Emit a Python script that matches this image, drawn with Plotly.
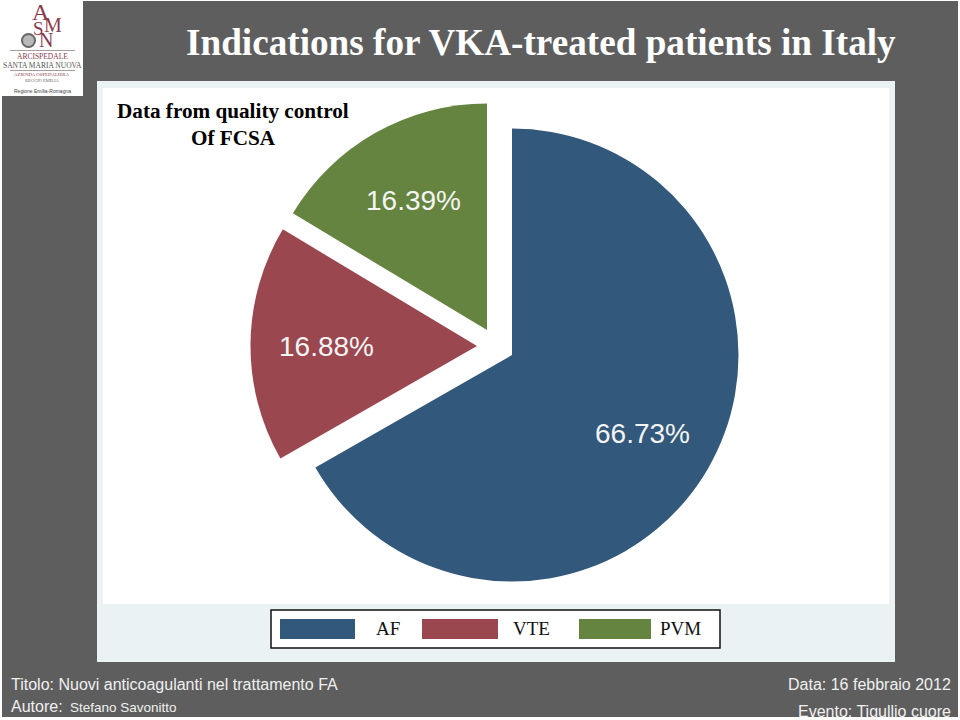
import plotly.graph_objects as go

categories = ["AF", "VTE", "PVM"]
shares = [66.73, 16.88, 16.39]
colors = ["#32587C", "#9A474F", "#64843F"]

W, H = 960, 720
def px(x): return x / W
def py(y): return 1 - y / H

fig = go.Figure()
# every slice is its own offset pie, because the original explodes them by unequal vectors
centres = [(512, 355), (477, 346), (487, 330)]
radius = 226.5
for i, (cx, cy) in enumerate(centres):
    slice_colors = [c if j == i else "rgba(0,0,0,0)" for j, c in enumerate(colors)]
    fig.add_trace(go.Pie(
        labels=categories, values=shares, sort=False, direction="clockwise", rotation=0,
        marker=dict(colors=slice_colors, line=dict(width=0)),
        textinfo="none", showlegend=False, hoverinfo="skip",
        domain=dict(x=[px(cx - radius), px(cx + radius)], y=[py(cy + radius), py(cy - radius)]),
    ))

shapes = []
def rect(x0, y0, x1, y1, fill, line=None, lw=0, layer="below"):
    shapes.append(dict(type="rect", xref="paper", yref="paper", x0=px(x0), x1=px(x1),
                       y0=py(y1), y1=py(y0), fillcolor=fill, layer=layer,
                       line=dict(color=line or fill, width=lw)))
rect(0, 0, 960, 720, "#FFFFFF")
rect(2, 1, 958, 717, "#5E5E5E")
rect(0, 0, 83, 96, "#FFFFFF")
rect(97, 81, 895, 662, "#EAF2F3")
rect(103, 88, 889, 604, "#FFFFFF")
rect(271, 610, 720, 648, "#FFFFFF", "#111111", 1.5)
for c, x0, x1 in zip(colors, [280, 422, 579], [355, 498, 651]):
    rect(x0, 619, x1, 639, c)
# logo emblem and rules
shapes.append(dict(type="circle", xref="paper", yref="paper", x0=px(22), x1=px(35), y0=py(47), y1=py(34),
                   fillcolor="#B9B9B9", line=dict(color="#666666", width=2), layer="above"))
rect(10, 50, 75, 51, "#A89A9F")
rect(10, 70, 75, 71, "#A89A9F")

annots = []
def text(x, y, s, size, color, family, anchor="center", bold=False):
    if bold: s = f"<b>{s}</b>"
    annots.append(dict(x=px(x), y=py(y), xref="paper", yref="paper", text=s, showarrow=False,
                       xanchor=anchor, yanchor="middle", font=dict(size=size, color=color, family=family),
                       borderpad=0))
SERIF, SANS = "Liberation Serif", "Liberation Sans"
text(541, 42, "Indications for VKA-treated patients in Italy", 37.2, "#FFFFFF", SERIF, bold=True)
text(233, 111, "Data from quality control", 21.2, "#000000", SERIF, bold=True)
text(233, 138, "Of FCSA", 21.2, "#000000", SERIF, bold=True)
for v, x, y in zip(shares, [642, 326, 413], [433, 346, 200]):
    text(x, y, f"{v:.2f}%", 28, "#F4F4F4", SANS)
for s, x in zip(categories, [388, 531, 680]):
    text(x, 628, s, 19, "#111111", SERIF)
text(10, 684, "Titolo: Nuovi anticoagulanti nel trattamento FA", 16, "#F0F0F0", SANS, "left")
text(10, 706, "Autore:", 16, "#F0F0F0", SANS, "left")
text(69, 707, "Stefano Savonitto", 13.5, "#F0F0F0", SANS, "left")
text(952, 684, "Data: 16 febbraio 2012", 16, "#F0F0F0", SANS, "right")
text(952, 711, "Evento: Tigullio cuore", 16, "#F0F0F0", SANS, "right")
# logo text
RED = "#8A3A4C"
text(41, 12, "A", 24, RED, SERIF)
text(38, 29, "S", 19, RED, SERIF)
text(53, 25, "M", 20, RED, SERIF)
text(46, 40, "N", 20, RED, SERIF)
text(42, 57, "ARCISPEDALE", 7.5, RED, SERIF)
text(42, 65, "SANTA MARIA NUOVA", 7.5, "#555555", SERIF)
text(42, 75, "AZIENDA OSPEDALIERA", 4.8, RED, SERIF)
text(42, 80, "REGGIO EMILIA", 4.5, "#666666", SERIF)
text(42, 91, "Regione Emilia-Romagna", 5, "#444444", SANS)

fig.update_layout(width=W, height=H, margin=dict(l=0, r=0, t=0, b=0), paper_bgcolor="#FFFFFF",
                  shapes=shapes, annotations=annots)
fig.write_html("out.html", config={"displayModeBar": False},
               post_script="document.body.style.margin='0';document.body.style.overflow='hidden';")
